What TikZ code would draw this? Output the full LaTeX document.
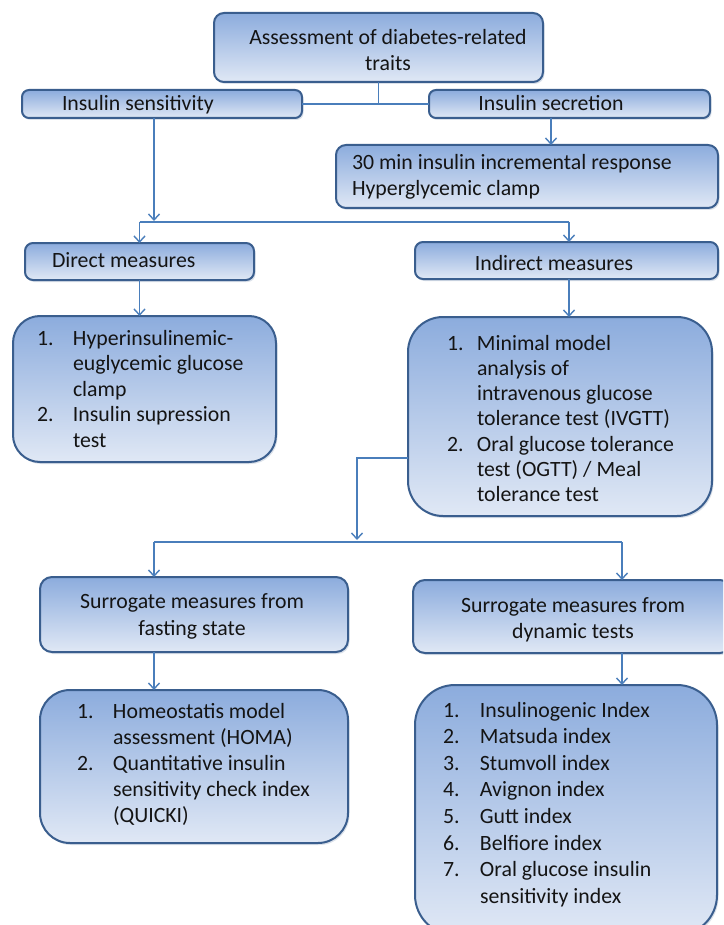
\documentclass[tikz,border=0pt]{standalone}
\usepackage{fontspec}
\setmainfont{Carlito}
\usetikzlibrary{arrows.meta,shadows}
\definecolor{boxtop}{RGB}{140,172,221}
\definecolor{boxbot}{RGB}{224,232,245}
\definecolor{boxline}{RGB}{58,94,142}
\definecolor{connc}{RGB}{74,126,187}
\definecolor{txtc}{RGB}{20,20,20}
\tikzset{
  box/.style={draw=boxline, line width=2pt, top color=boxtop, bottom color=boxbot,
    inner sep=0pt, outer sep=0pt,
    drop shadow={shadow xshift=1.5pt, shadow yshift=-2pt, opacity=0.18, fill=boxline}},
  txt/.style={inner sep=0pt, outer sep=0pt, text=txtc, font=\fontsize{21.8}{26}\selectfont},
  conn/.style={draw=connc, line width=1.5pt},
  arr/.style={conn, -{Straight Barb[length=6pt,width=11pt,line width=1.4pt]}}
}
\begin{document}
\begin{tikzpicture}[x=1pt,y=-1pt]
\useasboundingbox (0,0) rectangle (723,925);
\fill[white] (0,0) rectangle (723,925);
\clip (0,0) rectangle (723,925);

% boxes
\node[box, rounded corners=10pt, minimum width=329pt, minimum height=69pt] (top) at (378.5,47.5) {};
\node[box, rounded corners=7pt, minimum width=280pt, minimum height=28pt] (sens) at (162,104) {};
\node[box, rounded corners=7pt, minimum width=281pt, minimum height=28pt] (secr) at (569.5,104) {};
\node[box, rounded corners=10pt, minimum width=382pt, minimum height=63pt] (min30) at (527,176.5) {};
\node[box, rounded corners=8pt, minimum width=229pt, minimum height=37pt] (direct) at (139.5,261.5) {};
\node[box, rounded corners=8pt, minimum width=303pt, minimum height=37pt] (indirect) at (566.5,260.5) {};
\node[box, rounded corners=27pt, minimum width=263pt, minimum height=146pt] (llist) at (144.5,389) {};
\node[box, rounded corners=35pt, minimum width=304pt, minimum height=199pt] (rlist) at (560,416.5) {};
\node[box, rounded corners=12pt, minimum width=308pt, minimum height=75pt] (fast) at (194,614.5) {};
\node[box, rounded corners=12pt, minimum width=319pt, minimum height=73pt] (dyn) at (572.5,616.5) {};
\node[box, rounded corners=30pt, minimum width=308pt, minimum height=153pt] (flist) at (194,766.5) {};
\node[box, rounded corners=40pt, minimum width=302pt, minimum height=250pt] (dlist) at (566,810) {};

% texts
\node[txt, anchor=base] (tTop) at (388,45) {\begin{tabular}[t]{@{}c@{}}Assessment of diabetes-related\\traits\end{tabular}};
\node[txt, anchor=base west] (tSens) at (62,111) {Insulin sensitivity};
\node[txt, anchor=base] (tSecr) at (551,111) {Insulin secretion};
\node[txt, anchor=base west] (tMin) at (352,170) {\begin{tabular}[t]{@{}l@{}}30 min insulin incremental response\\Hyperglycemic clamp\end{tabular}};
\node[txt, anchor=base west] (tDirect) at (52,267) {Direct measures};
\node[txt, anchor=base] (tIndirect) at (554,270) {Indirect measures};
\node[txt, anchor=base west, font=\fontsize{21.8}{25.5}\selectfont] (tLL) at (37,345) {\begin{tabular}[t]{@{}p{36pt}@{}l@{}}
1. & Hyperinsulinemic-\\
   & euglycemic glucose\\
   & clamp\\
2. & Insulin supression\\
   & test\end{tabular}};
\node[txt, anchor=base west, font=\fontsize{21.8}{25.3}\selectfont] (tRL) at (447,350) {\begin{tabular}[t]{@{}p{30pt}@{}l@{}}
1. & Minimal model\\
   & analysis of\\
   & intravenous glucose\\
   & tolerance test (IVGTT)\\
2. & Oral glucose tolerance\\
   & test (OGTT) / Meal\\
   & tolerance test\end{tabular}};
\node[txt, anchor=base, font=\fontsize{21.8}{27}\selectfont] (tFast) at (192,608) {\begin{tabular}[t]{@{}c@{}}Surrogate measures from\\fasting state\end{tabular}};
\node[txt, anchor=base, font=\fontsize{21.8}{26}\selectfont] (tDyn) at (573,612) {\begin{tabular}[t]{@{}c@{}}Surrogate measures from\\dynamic tests\end{tabular}};
\node[txt, anchor=base west, font=\fontsize{21.8}{26}\selectfont] (tFL) at (77,718) {\begin{tabular}[t]{@{}p{36pt}@{}l@{}}
1. & Homeostatis model\\
   & assessment (HOMA)\\
2. & Quantitative insulin\\
   & sensitivity check index\\
   & (QUICKI)\end{tabular}};
\node[txt, anchor=base west, font=\fontsize{21.8}{26.6}\selectfont] (tDL) at (443,717) {\begin{tabular}[t]{@{}p{37pt}@{}l@{}}
1. & Insulinogenic Index\\
2. & Matsuda index\\
3. & Stumvoll index\\
4. & Avignon index\\
5. & Gutt index\\
6. & Belfiore index\\
7. & Oral glucose insulin\\
   & sensitivity index\end{tabular}};

% connectors
\draw[conn] (top.south) -- (top.south |- sens.east);
\draw[conn] (sens.east) -- (secr.west);
\coordinate (s1) at ([xshift=-18.5pt]secr.south);
\draw[arr] (s1) -- (s1 |- min30.north);

\coordinate (sd) at ([xshift=-8pt]sens.south);
\coordinate (jt) at (sd |- 0,221);
\draw[arr] (sd) -- (jt);
\coordinate (jl) at (direct.north |- 0,222);
\coordinate (ix) at ([xshift=2.5pt]indirect.south);
\coordinate (jr) at (ix |- 0,222);
\draw[conn] (jl) -- (jr);
\draw[arr] (jl) -- (direct.north);
\draw[arr] (jr) -- (jr |- indirect.north);
\draw[arr] (direct.south) -- (direct.south |- llist.north);
\draw[arr] (ix) -- (ix |- rlist.north);

\coordinate (rw) at (rlist.west |- 0,458);
\coordinate (rd) at (357,458);
\coordinate (rj) at (357,540);
\draw[arr] (rw) -- (rd) -- (rj);
\coordinate (bl) at (154,542);
\coordinate (br) at (622,542);
\draw[conn] (bl) -- (br);
\draw[arr] (bl) -- (bl |- fast.north);
\draw[arr] (br) -- (br |- dyn.north);
\draw[arr] (bl |- fast.south) -- (bl |- flist.north);
\draw[arr] (br |- dyn.south) -- (br |- dlist.north);
\end{tikzpicture}
\end{document}
